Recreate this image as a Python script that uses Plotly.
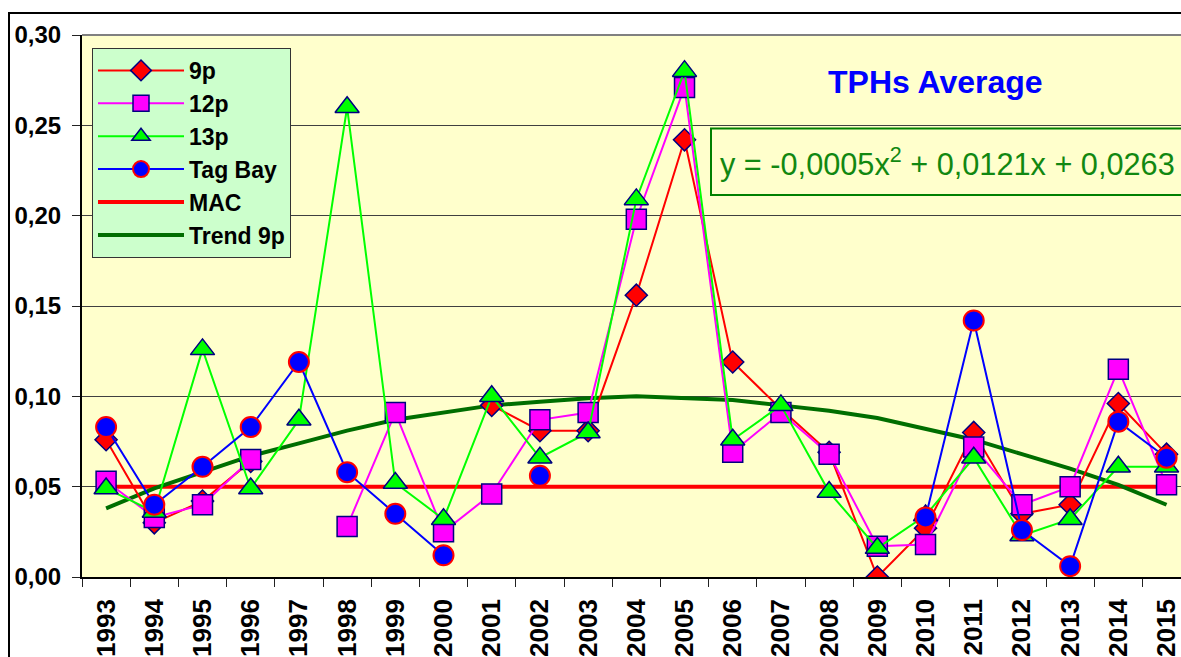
import plotly.graph_objects as go

# ---------------- data ----------------
years = ["1993", "1994", "1995", "1996", "1997", "1998", "1999", "2000", "2001", "2002",
         "2003", "2004", "2005", "2006", "2007", "2008", "2009", "2010", "2011", "2012",
         "2013", "2014", "2015"]
p9 = [0.076, 0.030, 0.042, 0.064, None, None, None, None, 0.095, 0.081, 0.081, 0.156,
      0.242, 0.119, 0.093, 0.069, 0.000, 0.027, 0.080, 0.035, 0.040, 0.096, 0.068]
p12 = [0.053, 0.033, 0.040, 0.065, None, 0.028, 0.091, 0.025, 0.046, 0.087, 0.091, 0.198,
       0.271, 0.069, 0.091, 0.068, 0.017, 0.018, 0.072, 0.040, 0.050, 0.115, 0.051]
p13 = [0.049, 0.036, 0.126, 0.049, 0.087, 0.260, 0.052, 0.032, 0.100, 0.066, 0.080, 0.209,
       0.280, 0.076, 0.095, 0.047, 0.016, 0.034, 0.066, 0.023, 0.032, 0.061, 0.061]
tag_bay = [0.083, 0.040, 0.061, 0.083, 0.119, 0.058, 0.035, 0.012, None, 0.056, None, None,
           None, None, None, None, None, 0.033, 0.142, 0.026, 0.006, 0.086, 0.066]
mac = [0.05, 0.05, 0.05, 0.05, 0.05, 0.05, 0.05, 0.05, 0.05, 0.05, 0.05, 0.05,
       0.05, 0.05, 0.05, 0.05, 0.05, 0.05, 0.05, 0.05, 0.05, 0.05, 0.05]
trend_9p = [0.038, 0.049, 0.058, 0.067, 0.074, 0.081, 0.087, 0.091, 0.095, 0.097, 0.099, 0.100,
            0.099, 0.098, 0.095, 0.092, 0.088, 0.082, 0.076, 0.068, 0.060, 0.051, 0.040]
y_ticks = [0.0, 0.05, 0.10, 0.15, 0.20, 0.25, 0.30]

title_text = "TPHs Average"
equation_text = "y = -0,0005x<sup>2</sup> + 0,0121x + 0,0263"

# ---------------- layout helpers ----------------
W, H = 1181, 657
ML, MR, MT, MB = 82, 0, 35, 77
PW, PH = W - ML - MR, H - MT - MB


def px(x):
    return (x - ML) / PW


def py(y):
    return (H - MB - y) / PH


FONT = "Liberation Sans, Arial, sans-serif"
NAVY = "#000080"

fig = go.Figure()

fig.add_trace(go.Scatter(x=years, y=mac, name="MAC", mode="lines",
                         line=dict(color="#FF0000", width=4), legendrank=5))
fig.add_trace(go.Scatter(x=years, y=trend_9p, name="Trend 9p", mode="lines",
                         line=dict(color="#006E00", width=4), legendrank=6))
fig.add_trace(go.Scatter(x=years, y=p9, name="9p", mode="lines+markers",
                         line=dict(color="#FF0000", width=2),
                         marker=dict(symbol="diamond", size=17, color="#FF0000",
                                     line=dict(color=NAVY, width=1.5)),
                         connectgaps=False, legendrank=1))
fig.add_trace(go.Scatter(x=years, y=p12, name="12p", mode="lines+markers",
                         line=dict(color="#FF00FF", width=2),
                         marker=dict(symbol="square", size=20, color="#FF00FF",
                                     line=dict(color=NAVY, width=1.5)),
                         connectgaps=False, legendrank=2))
fig.add_trace(go.Scatter(x=years, y=p13, name="13p", mode="lines+markers",
                         line=dict(color="#00FF00", width=2),
                         marker=dict(symbol="triangle-up", size=21, color="#00FF00",
                                     line=dict(color=NAVY, width=1.5)),
                         connectgaps=False, legendrank=3))
fig.add_trace(go.Scatter(x=years, y=tag_bay, name="Tag Bay", mode="lines+markers",
                         line=dict(color="#0000FF", width=2),
                         marker=dict(symbol="circle", size=20, color="#0000FF",
                                     line=dict(color="#FF0000", width=2)),
                         connectgaps=False, legendrank=4))

fig.update_layout(
    width=W, height=H,
    margin=dict(l=ML, r=MR, t=MT, b=MB, pad=0),
    paper_bgcolor="white",
    plot_bgcolor="#FFFFCC",
    separators=",.",
    font=dict(family=FONT, color="black"),
    showlegend=True,
    legend=dict(x=px(92), y=py(48), xanchor="left", yanchor="top",
                bgcolor="#CCFFCC", bordercolor="#333333", borderwidth=1,
                font=dict(family=FONT, size=23, weight="bold", color="black"),
                itemwidth=86, tracegroupgap=0),
    xaxis=dict(type="category", range=[-0.5, 22.3], tickson="boundaries",
               ticks="outside", ticklen=8, tickcolor="#222222", tickwidth=1,
               showline=True, linecolor="black", linewidth=1.5,
               showgrid=False, tickangle=-90, ticklabelstandoff=10,
               tickfont=dict(family=FONT, size=26, weight="bold", color="black")),
    yaxis=dict(range=[0, 0.30], tickvals=y_ticks, tickformat=".2f",
               ticks="outside", ticklen=8, tickcolor="#222222", tickwidth=1,
               showline=True, linecolor="black", linewidth=2,
               showgrid=True, gridcolor="#404040", gridwidth=1, zeroline=False,
               ticklabelstandoff=6,
               tickfont=dict(family=FONT, size=24, weight="bold", color="black")),
    shapes=[
        dict(type="rect", xref="paper", yref="paper", x0=px(9), x1=px(1250),
             y0=py(720), y1=py(13), line=dict(color="black", width=2),
             fillcolor="rgba(0,0,0,0)", layer="above"),
        dict(type="line", xref="paper", yref="paper", x0=0, x1=1, y0=1, y1=1,
             line=dict(color="#808080", width=2)),
        dict(type="rect", xref="paper", yref="paper", x0=px(711), x1=px(1250),
             y0=py(196), y1=py(129), line=dict(color="#008000", width=2),
             fillcolor="rgba(0,0,0,0)", layer="above"),
    ],
    annotations=[
        dict(text=title_text, xref="paper", yref="paper", x=px(935), y=py(82),
             xanchor="center", yanchor="middle", showarrow=False,
             font=dict(family=FONT, size=32, weight="bold", color="#0000FF")),
        dict(text=equation_text, xref="paper", yref="paper", x=px(718), y=py(163),
             xanchor="left", yanchor="middle", showarrow=False,
             font=dict(family=FONT, size=30.7, color="#118811")),
    ],
)

fig.write_html("out.html", config={"displayModeBar": False},
               post_script="document.body.style.margin='0';document.body.style.overflow='hidden';")
